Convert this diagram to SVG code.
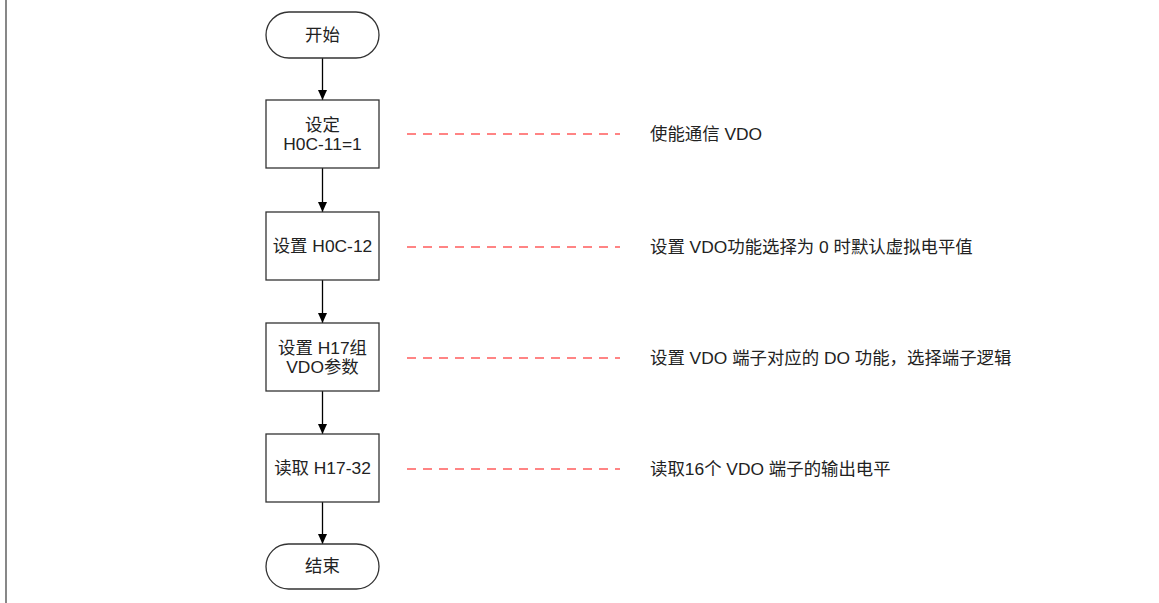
<svg xmlns="http://www.w3.org/2000/svg" width="1159" height="603" viewBox="0 0 1159 603">
<defs>
<marker id="arr" viewBox="0 0 10 10" refX="10" refY="5" markerWidth="10" markerHeight="9" markerUnits="userSpaceOnUse" orient="auto" preserveAspectRatio="none">
<path d="M0,0 L10,5 L0,10 z" fill="#000"/>
</marker>
<style>
.shape{fill:#fff;stroke:#333;stroke-width:1.3}
.t{font-family:"Liberation Sans","Noto Sans CJK SC",sans-serif;font-size:17.4px;fill:#222}
.c{text-anchor:middle}
.flow{stroke:#000;stroke-width:1.3;fill:none}
.dash{stroke:#ff5c5c;stroke-width:1.4;stroke-dasharray:9 7;fill:none}
</style>
</defs>
<rect width="1159" height="603" fill="#fff"/>
<line x1="6" y1="0" x2="6" y2="603" stroke="#6a6a6a" stroke-width="1.6"/>
<g id="connectors">
<line class="flow" x1="322.5" y1="58" x2="322.5" y2="100" marker-end="url(#arr)"/>
<line class="flow" x1="322.5" y1="168" x2="322.5" y2="212" marker-end="url(#arr)"/>
<line class="flow" x1="322.5" y1="280" x2="322.5" y2="323" marker-end="url(#arr)"/>
<line class="flow" x1="322.5" y1="391" x2="322.5" y2="434" marker-end="url(#arr)"/>
<line class="flow" x1="322.5" y1="502" x2="322.5" y2="544" marker-end="url(#arr)"/>
<line class="dash" x1="407" y1="134" x2="620" y2="134"/>
<line class="dash" x1="407" y1="247" x2="620" y2="247"/>
<line class="dash" x1="407" y1="358" x2="620" y2="358"/>
<line class="dash" x1="407" y1="469" x2="620" y2="469"/>
</g>
<g id="start">
<rect class="shape" x="266" y="12" width="113" height="46" rx="23" ry="23"/>
<text class="t c" x="322.5" y="41">开始</text>
</g>
<g id="step1">
<rect class="shape" x="266" y="100" width="113" height="68"/>
<text class="t c" x="322.5" y="131">设定</text>
<text class="t c" x="322.5" y="150">H0C-11=1</text>
</g>
<g id="step2">
<rect class="shape" x="266" y="212" width="113" height="68"/>
<text class="t c" x="322.5" y="252">设置 H0C-12</text>
</g>
<g id="step3">
<rect class="shape" x="266" y="323" width="113" height="68"/>
<text class="t c" x="322.5" y="354">设置 H17组</text>
<text class="t c" x="322.5" y="373">VDO参数</text>
</g>
<g id="step4">
<rect class="shape" x="266" y="434" width="113" height="68"/>
<text class="t c" x="322.5" y="474">读取 H17-32</text>
</g>
<g id="end">
<rect class="shape" x="266" y="544" width="113" height="45" rx="22.5" ry="22.5"/>
<text class="t c" x="322.5" y="572">结束</text>
</g>
<g id="note1"><text class="t" x="650" y="140">使能通信 VDO</text></g>
<g id="note2"><text class="t" x="650" y="253">设置 VDO功能选择为 0 时默认虚拟电平值</text></g>
<g id="note3"><text class="t" x="650" y="364">设置 VDO 端子对应的 DO 功能，选择端子逻辑</text></g>
<g id="note4"><text class="t" x="650" y="475">读取16个 VDO 端子的输出电平</text></g>
</svg>
